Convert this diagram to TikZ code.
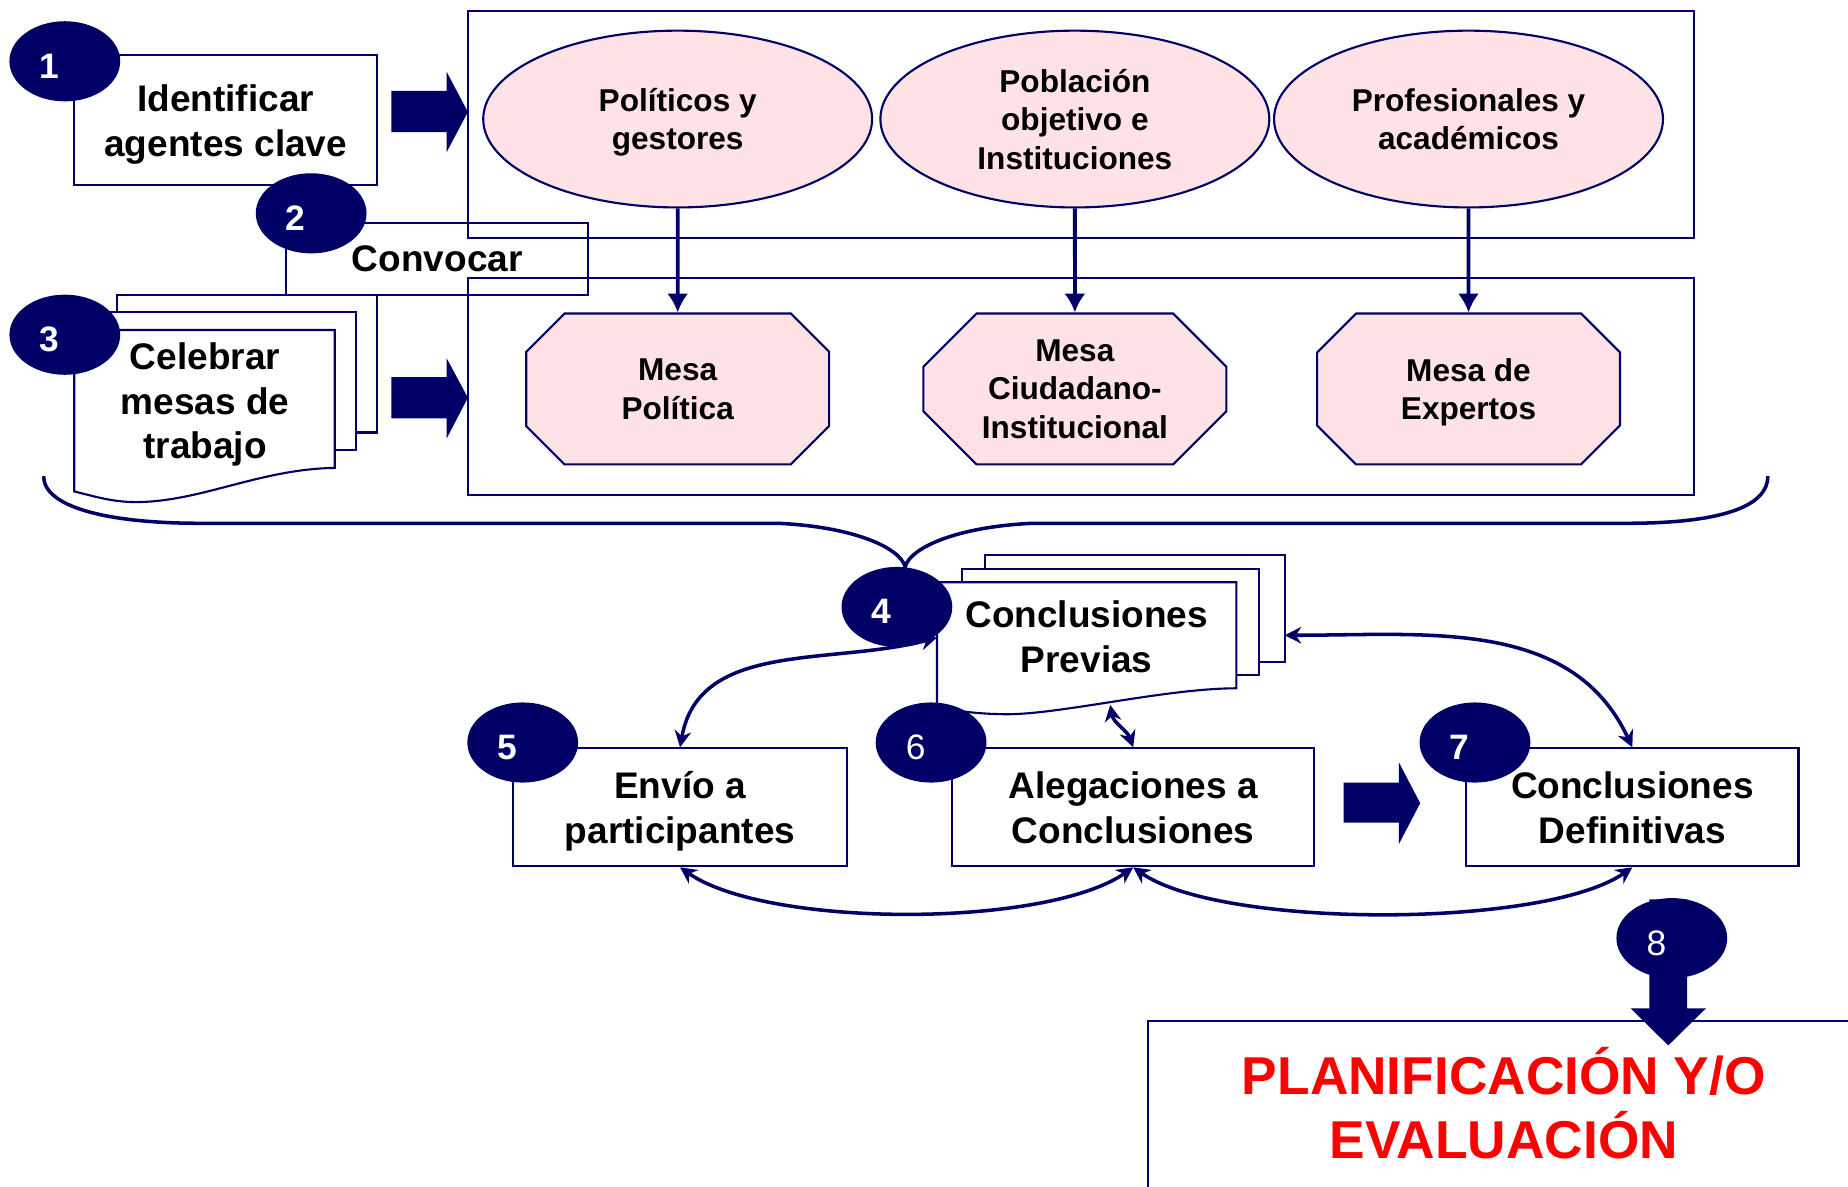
\documentclass[tikz,border=0pt]{standalone}
\usepackage{fontspec}
\setmainfont{Liberation Sans}
\usepackage{xcolor}
\usetikzlibrary{arrows.meta,shapes.geometric,shapes.misc}
\definecolor{navy}{RGB}{0,0,102}
\definecolor{rosa}{RGB}{255,226,230}
\newcommand{\stepno}[1]{\raisebox{-4pt}{#1}\hspace*{13pt}}

\begin{document}
\begin{tikzpicture}[x=0.5pt, y=-0.5pt,
  every node/.style={font=\fontsize{15.7}{19}\selectfont\bfseries, align=center, text depth=0pt},
  box/.style={rectangle, draw=navy, fill=white, line width=0.9pt, inner sep=0pt},
  dot/.style={ellipse, fill=navy, text=white, minimum width=47pt, minimum height=34pt, inner sep=0pt, font=\fontsize{15}{18}\selectfont\bfseries},
  agent/.style={ellipse, draw=navy, fill=rosa, line width=0.9pt, minimum width=165pt, minimum height=75pt, inner sep=0pt, font=\fontsize{13.4}{16.3}\selectfont\bfseries},
  mesa/.style={chamfered rectangle, chamfered rectangle xsep=19pt, draw=navy, fill=rosa, line width=0.9pt, minimum width=128.5pt, minimum height=64pt, inner sep=0pt, font=\fontsize{13.4}{16.3}\selectfont\bfseries},
  sheet/.style={draw=navy, fill=white, line width=0.9pt},
  conn/.style={draw=navy, line width=1.5pt, {Stealth[length=7pt,width=7pt]}-{Stealth[length=7pt,width=7pt]}},
  down/.style={draw=navy, line width=1.6pt, -{Latex[length=8pt,width=9pt]}}]
\useasboundingbox (0,0) rectangle (1568,1007);
\clip (0,0) rectangle (1568,1007);

% Agents and tables
\draw[navy, line width=0.9pt] (397,9) rectangle (1437,202);
\draw[navy, line width=0.9pt] (397,236) rectangle (1437,420);
\node[agent] (polit) at (575,101) {Políticos y\\gestores};
\node[agent] (pobla) at (912,101) {Población\\objetivo e\\Instituciones};
\node[agent] (profe) at (1246,101) {Profesionales y\\académicos};
\node[mesa] (mpol) at (575,330) {Mesa\\Política};
\node[mesa] (mciu) at (912,330) {Mesa\\Ciudadano-\\Institucional};
\node[mesa] (mexp) at (1246,330) {Mesa de\\Expertos};
\draw[down] (polit) -- (mpol);
\draw[down] (pobla) -- (mciu);
\draw[down] (profe) -- (mexp);

% Step 1 and 2
\node[box, minimum width=128.5pt, minimum height=55pt] (ident) at (191.5,102) {Identificar\\agentes clave};
\node[box, fill=none, minimum width=128pt, minimum height=30.5pt] (convo) at (371,219.5) {Convocar};
\node[dot] (n2) at (264,181) {\stepno{2}};
\node[dot] (n1) at (55,52) {\stepno{1}};
\fill[navy] (332,77) -- (379,77) -- (379,61) -- (397,95) -- (379,129) -- (379,112) -- (332,112) -- cycle;

% Step 3
\draw[sheet] (99,250) rectangle (320,367);
\draw[sheet] (81,265) rectangle (302,382);
\draw[sheet] (63,280) -- (284,280) -- (284,397) .. controls (220,398) and (170,426) .. (115,426) .. controls (95,426) and (80,421) .. (63,417) -- cycle;
\node (celeb) at (174,340) {Celebrar\\mesas de\\trabajo};
\node[dot] (n3) at (55,284) {\stepno{3}};
\fill[navy] (332,320) -- (379,320) -- (379,304) -- (397,337.5) -- (379,372) -- (379,355) -- (332,355) -- cycle;
\draw[navy, line width=1.5pt] (37,404) .. controls (37,430) and (90,444) .. (170,444) -- (660,444) .. controls (725,447) and (764,465) .. (768,481) .. controls (772,465) and (811,447) .. (876,444) -- (1380,444) .. controls (1460,444) and (1500,430) .. (1500,404);

% Step 4 to 7
\draw[sheet] (836,471) rectangle (1090,562);
\draw[sheet] (816,483) rectangle (1068,573);
\draw[sheet] (795,494) -- (1049,494) -- (1049,584) .. controls (990,584) and (900,606) .. (855,606) .. controls (830,606) and (810,603) .. (795,600) -- cycle;
\node (previas) at (922,540) {Conclusiones\\Previas};
\coordinate (prevL) at (795,541);
\coordinate (prevR) at (1090,539);
\coordinate (prevB) at (942,598);
\node[box, minimum width=141.5pt, minimum height=50pt] (envio) at (577,685) {Envío a\\participantes};
\node[box, minimum width=153.5pt, minimum height=50pt] (aleg) at (961.5,685) {Alegaciones a\\Conclusiones};
\node[box, minimum width=141pt, minimum height=50pt] (defin) at (1385,685) {Conclusiones\\Definitivas};
\draw[conn] (envio.north) to[out=80, in=195] (prevL);
\draw[conn] (prevR) to[out=0, in=115] (defin.north);
\draw[conn] (prevB) to[out=-80, in=110] (aleg.north);
\draw[conn] (envio.south) to[out=-35, in=-145, looseness=0.6] (aleg.south);
\draw[conn] (aleg.south) to[out=-35, in=-145, looseness=0.55] (defin.south);
\node[dot] (n4) at (761,515) {\stepno{4}};
\node[dot] (n5) at (443.5,630) {\stepno{5}};
\node[dot, font=\fontsize{15}{18}\selectfont] (n6) at (790,630) {\stepno{6}};
\node[dot] (n7) at (1251.5,630) {\stepno{7}};
\fill[navy] (1140,664) -- (1187,664) -- (1187,647) -- (1205,681.5) -- (1187,716) -- (1187,698) -- (1140,698) -- cycle;

% Step 8
\draw[navy, line width=0.9pt] (974,866) rectangle (1620,1040);
\node[text=red, font=\fontsize{22.6}{27}\selectfont\bfseries] (planif) at (1276,936) {PLANIFICACIÓN Y/O\\EVALUACIÓN};
\fill[navy] (1399.5,763) -- (1431.5,763) -- (1431.5,855.5) -- (1447.5,855.5) -- (1415.5,887) -- (1383.5,855.5) -- (1399.5,855.5) -- cycle;
\node[dot, font=\fontsize{15}{18}\selectfont] (n8) at (1418.5,796) {\stepno{8}};
\end{tikzpicture}
\end{document}
